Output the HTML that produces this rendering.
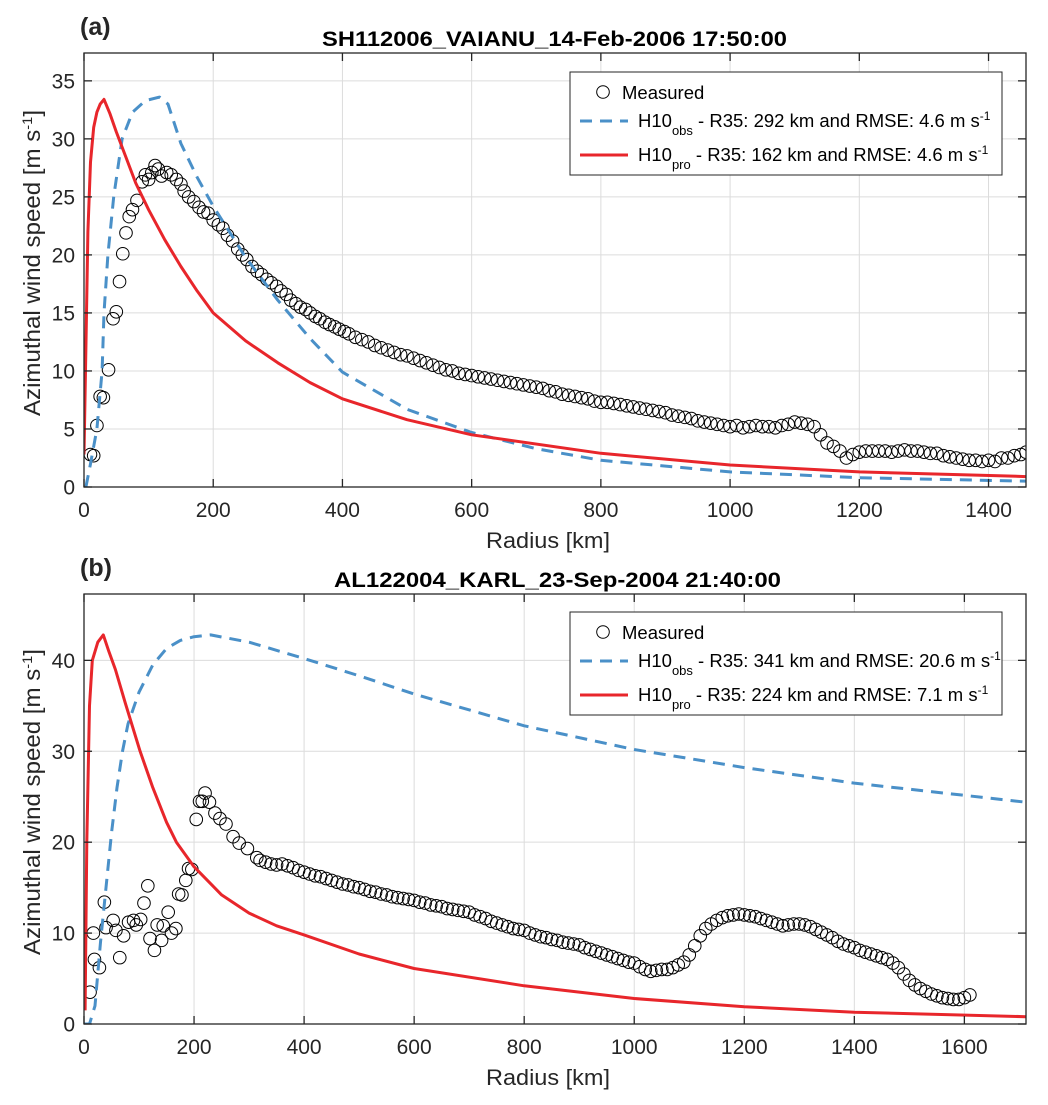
<!DOCTYPE html>
<html><head><meta charset="utf-8"><style>
html,body{margin:0;padding:0;background:#fff;}
svg{display:block;font-family:"Liberation Sans",Arial,sans-serif;}
</style></head><body>
<svg id="fig" width="1048" height="1105" viewBox="0 0 1048 1105"></svg>
<script>
// ---------- Panel (a) data ----------
const aMeasR=[10,15,20,25,30,38,45,50,55,60,65,70,75,82,90,95,100,105,110,115,120,128,135,143,150,155,162,170,178,185,192,200,208,215,222,230,238,245,252,260,268,275,283,290,298,305,313,320,328,335,343,350,358,365,373,380,388,395,403,410,420,430,440,450,460,470,480,490,500,510,520,530,540,550,560,570,580,590,600,610,620,630,640,650,660,670,680,690,700,710,720,730,740,750,760,770,780,790,800,810,820,830,840,850,860,870,880,890,900,910,920,930,940,950,960,970,980,990,1000,1010,1020,1030,1040,1050,1060,1070,1080,1090,1100,1110,1120,1130,1140,1150,1160,1170,1180,1190,1200,1210,1220,1230,1240,1250,1260,1270,1280,1290,1300,1310,1320,1330,1340,1350,1360,1370,1380,1390,1400,1410,1420,1430,1440,1450,1458];
const aMeasV=[2.8,2.7,5.3,7.8,7.7,10.1,14.5,15.1,17.7,20.1,21.9,23.3,23.9,24.7,26.3,26.9,26.5,27.1,27.7,27.4,26.8,27.1,26.9,26.5,26.1,25.5,25,24.6,24.1,23.7,23.6,23.0,22.6,22.3,21.7,21.2,20.5,20,19.6,19,18.6,18.3,17.9,17.6,17.3,16.9,16.6,16.1,15.8,15.5,15.3,15,14.7,14.5,14.2,14,13.8,13.6,13.4,13.2,12.9,12.7,12.5,12.2,12.0,11.8,11.6,11.4,11.3,11.1,10.9,10.7,10.5,10.3,10.1,10.0,9.8,9.7,9.6,9.5,9.4,9.3,9.2,9.1,9.0,8.9,8.8,8.7,8.6,8.5,8.3,8.2,8.0,7.9,7.8,7.7,7.6,7.4,7.3,7.3,7.2,7.1,7.0,6.9,6.8,6.7,6.6,6.5,6.4,6.2,6.1,6.0,5.9,5.7,5.6,5.5,5.4,5.3,5.2,5.3,5.1,5.2,5.3,5.2,5.2,5.1,5.3,5.4,5.6,5.5,5.4,5.2,4.5,3.8,3.5,3.1,2.5,2.8,3.0,3.1,3.1,3.1,3.1,3.0,3.1,3.2,3.1,3.1,3.0,2.9,2.9,2.7,2.6,2.5,2.4,2.3,2.3,2.2,2.3,2.2,2.5,2.5,2.7,2.8,3.0];
const aObsR=[3,10,20,28,31,37,46,59,75,95,117,130,150,175,200,250,300,350,400,500,600,700,800,1000,1200,1460];
const aObsV=[0,2,5,10,15,20,25,30,32.3,33.3,33.6,33,29.6,26.7,24.2,19.8,16.1,12.8,9.9,6.7,4.7,3.3,2.3,1.3,0.8,0.5];
const aProR=[0,3,6,10,15,20,25,31,40,50,65,80,100,125,150,175,200,250,300,350,400,500,600,800,1000,1200,1460];
const aProV=[2.8,12,22,28,31,32.3,33.0,33.4,32.2,30.6,28.4,26.2,23.9,21.3,19.0,16.9,15.0,12.6,10.7,9.0,7.6,5.8,4.5,2.9,1.9,1.3,0.9];
const aXTicks=[0,200,400,600,800,1000,1200,1400];
const aYTicks=[0,5,10,15,20,25,30,35];

// ---------- Panel (b) data ----------
const bMeasR=[11,17,19,28,37,40,53,58,65,72,81,90,95,103,109,116,120,128,133,141,144,153,159,167,172,178,185,190,196,204,210,215,220,228,238,247,258,271,282,297,314,320,330,340,350,360,370,380,390,400,410,420,430,440,450,460,470,480,490,500,510,520,530,540,550,560,570,580,590,600,610,620,630,640,650,660,670,680,690,700,710,720,730,740,750,760,770,780,790,800,810,820,830,840,850,860,870,880,890,900,910,920,930,940,950,960,970,980,990,1000,1010,1020,1030,1040,1050,1060,1070,1080,1090,1100,1110,1120,1130,1140,1150,1160,1170,1180,1190,1200,1210,1220,1230,1240,1250,1260,1270,1280,1290,1300,1310,1320,1330,1340,1350,1360,1370,1380,1390,1400,1410,1420,1430,1440,1450,1460,1470,1480,1490,1500,1510,1520,1530,1540,1550,1560,1570,1580,1590,1600,1610];
const bMeasV=[3.5,10.0,7.1,6.2,13.4,10.6,11.4,10.3,7.3,9.7,11.2,11.4,10.9,11.5,13.3,15.2,9.4,8.1,10.9,9.2,10.8,12.3,10.0,10.5,14.3,14.2,15.8,17.1,17.0,22.5,24.5,24.5,25.4,24.4,23.2,22.6,22,20.6,19.9,19.3,18.3,18.0,17.8,17.6,17.5,17.6,17.4,17.2,16.9,16.7,16.5,16.3,16.2,16,15.8,15.6,15.4,15.3,15.1,15.0,14.8,14.6,14.5,14.3,14.2,14.0,13.9,13.8,13.7,13.6,13.4,13.3,13.1,13.0,12.9,12.7,12.6,12.5,12.4,12.3,12.0,11.8,11.6,11.3,11.1,10.9,10.7,10.5,10.4,10.3,10.0,9.8,9.6,9.5,9.3,9.2,9.0,8.9,8.8,8.7,8.4,8.2,8.0,7.8,7.6,7.4,7.2,7.0,6.8,6.7,6.3,6.0,5.8,5.9,6.0,6.0,6.2,6.5,6.8,7.6,8.6,9.7,10.5,11.0,11.4,11.7,11.9,12.0,12.1,12.0,11.9,11.8,11.6,11.4,11.2,11.0,10.8,10.9,11.0,11.0,10.9,10.7,10.4,10.1,9.8,9.5,9.1,8.8,8.6,8.4,8.1,7.9,7.7,7.5,7.3,7.1,6.7,6.2,5.5,4.8,4.3,3.9,3.6,3.3,3.1,2.9,2.8,2.7,2.7,2.9,3.2];
const bObsR=[0,10,20,30,40,50,60,70,80,100,125,150,175,200,230,300,400,500,600,800,1000,1200,1400,1712];
const bObsV=[0,0,2,9,15,21,26,30,33,36.5,39.5,41.3,42.2,42.6,42.8,42,40.2,38.3,36.3,32.8,30.2,28.2,26.5,24.4];
const bProR=[2,5,10,15,25,35,45,57,75,102,125,150,168,200,250,300,350,400,500,600,800,1000,1200,1400,1712];
const bProV=[1.5,20,35,40,42,42.8,41,39,35.3,30,26,22.2,20,17.3,14.2,12.2,10.8,9.8,7.7,6.1,4.2,2.8,1.9,1.3,0.8];
const bXTicks=[0,200,400,600,800,1000,1200,1400,1600];
const bYTicks=[0,10,20,30,40];

const NS="http://www.w3.org/2000/svg";
const svg=document.getElementById('fig');
function mk(tag,attrs,parent,txt){const e=document.createElementNS(NS,tag);for(const k in attrs)e.setAttribute(k,attrs[k]);if(txt!==undefined)e.textContent=txt;(parent||svg).appendChild(e);return e;}

function panel(cfg){
  const g=mk('g',{});
  
  
  const L=cfg.L,R=cfg.R,T=cfg.T,B=cfg.B;
  const sx=v=>L+(v-cfg.xmin)/(cfg.xmax-cfg.xmin)*(R-L);
  const sy=v=>B-(v-cfg.ymin)/(cfg.ymax-cfg.ymin)*(B-T);
  mk('rect',{x:L,y:T,width:R-L,height:B-T,fill:'#fff'},g);
  cfg.xt.forEach(t=>{const x=sx(t);const l=mk('line',{x1:x,x2:x,y1:T,y2:B,stroke:'#dcdcdc','stroke-width':1},g);});
  cfg.yt.forEach(t=>{const y=sy(t);const l=mk('line',{x1:L,x2:R,y1:y,y2:y,stroke:'#dcdcdc','stroke-width':1},g);});
  const cid='clip'+cfg.name;
  const cp=mk('clipPath',{id:cid},g);mk('rect',{x:L,y:T,width:R-L,height:B-T},cp);
  const pg=mk('g',{'clip-path':'url(#'+cid+')'},g);
  cfg.mr.forEach((r,i)=>{const c=mk('circle',{cx:sx(r),cy:sy(cfg.mv[i]),r:6.3,fill:'none',stroke:'#000','stroke-width':1},pg);});
  const line=(R_,V_,col,dash,nm)=>{const p=mk('polyline',{points:R_.map((r,i)=>sx(r).toFixed(1)+','+sy(V_[i]).toFixed(1)).join(' '),fill:'none',stroke:col,'stroke-width':3,'stroke-dasharray':dash,'stroke-linejoin':'round'},pg);};
  line(cfg.or,cfg.ov,'#4a90c8','12 8','h10-obs-line');
  line(cfg.pr,cfg.pv,'#e8262b','none','h10-pro-line');
  const bx=mk('rect',{x:L,y:T,width:R-L,height:B-T,fill:'none',stroke:'#262626','stroke-width':1.3},g);
  
  cfg.xt.forEach(t=>{const x=sx(t);
    mk('line',{x1:x,x2:x,y1:B,y2:B-8,stroke:'#262626','stroke-width':1.3},g);
    mk('line',{x1:x,x2:x,y1:T,y2:T+8,stroke:'#262626','stroke-width':1.3},g);
    const tx=mk('text',{x:x,y:B+30,'font-size':21,'text-anchor':'middle',fill:'#262626'},g,t);
    });
  cfg.yt.forEach(t=>{const y=sy(t);
    mk('line',{x1:L,x2:L+8,y1:y,y2:y,stroke:'#262626','stroke-width':1.3},g);
    mk('line',{x1:R,x2:R-8,y1:y,y2:y,stroke:'#262626','stroke-width':1.3},g);
    const tx=mk('text',{x:L-9,y:y+7.5,'font-size':21,'text-anchor':'end',fill:'#262626'},g,t);
    });
  const xl=mk('text',{x:(L+R)/2-7,y:B+61,'font-size':22,'text-anchor':'middle',fill:'#262626',textLength:124,lengthAdjust:'spacingAndGlyphs'},g,'Radius [km]');
  
  const yl=mk('text',{x:0,y:0,'font-size':23,'text-anchor':'middle',fill:'#262626',textLength:306,lengthAdjust:'spacingAndGlyphs',transform:'translate(40,'+((T+B)/2-7)+') rotate(-90)'},g);
  
  yl.appendChild(document.createTextNode('Azimuthal wind speed [m s'));
  mk('tspan',{'baseline-shift':'super','font-size':14},yl,'-1');
  yl.appendChild(document.createTextNode(']'));
  const ti=mk('text',{x:cfg.titleX,y:T-7,'font-size':21,'font-weight':'bold',fill:'#000',textLength:cfg.titleW,lengthAdjust:'spacingAndGlyphs'},g,cfg.title);
  
  const pl=mk('text',{x:80,y:T-18,'font-size':25,'font-weight':'bold',fill:'#262626'},g,cfg.plabel);
  
  const lg=mk('g',{},g);
  const ly=cfg.legY;
  mk('rect',{x:570,y:ly,width:432,height:103,fill:'#fff',stroke:'#262626','stroke-width':1},lg);
  const e1=mk('g',{},lg);
  mk('circle',{cx:603,cy:ly+20,r:6.3,fill:'none',stroke:'#000','stroke-width':1},e1);
  mk('text',{x:622,y:ly+27,'font-size':18.5,fill:'#000'},e1,'Measured');
  const ent=(yy,col,dash,sub,txt,nm)=>{const e=mk('g',{},lg);
    mk('line',{x1:580,x2:628,y1:yy,y2:yy,stroke:col,'stroke-width':3,'stroke-dasharray':dash},e);
    const t=mk('text',{x:638,y:yy+6,'font-size':18.5,fill:'#000'},e);
    t.appendChild(document.createTextNode('H10'));
    mk('tspan',{'baseline-shift':'sub','font-size':13},t,sub);
    t.appendChild(document.createTextNode(txt));
    mk('tspan',{'baseline-shift':'super','font-size':12},t,'-1');};
  ent(ly+49,'#4a90c8','12 8','obs',cfg.obsTxt,'legend-entry-h10-obs');
  ent(ly+83,'#e8262b','none','pro',cfg.proTxt,'legend-entry-h10-pro');
}

panel({name:'panel-a',L:84,R:1026,T:53,B:487,xmin:0,xmax:1458,ymin:0,ymax:37.4,xt:aXTicks,yt:aYTicks,
  mr:aMeasR,mv:aMeasV,or:aObsR,ov:aObsV,pr:aProR,pv:aProV,title:'SH112006_VAIANU_14-Feb-2006 17:50:00',titleX:322,titleW:465,plabel:'(a)',legY:72,
  obsTxt:' - R35: 292 km and RMSE: 4.6 m s',proTxt:' - R35: 162 km and RMSE: 4.6 m s'});
panel({name:'panel-b',L:84,R:1026,T:594,B:1024,xmin:0,xmax:1712,ymin:0,ymax:47.3,xt:bXTicks,yt:bYTicks,
  mr:bMeasR,mv:bMeasV,or:bObsR,ov:bObsV,pr:bProR,pv:bProV,title:'AL122004_KARL_23-Sep-2004 21:40:00',titleX:334,titleW:447,plabel:'(b)',legY:612,
  obsTxt:' - R35: 341 km and RMSE: 20.6 m s',proTxt:' - R35: 224 km and RMSE: 7.1 m s'});
</script>
</body></html>
